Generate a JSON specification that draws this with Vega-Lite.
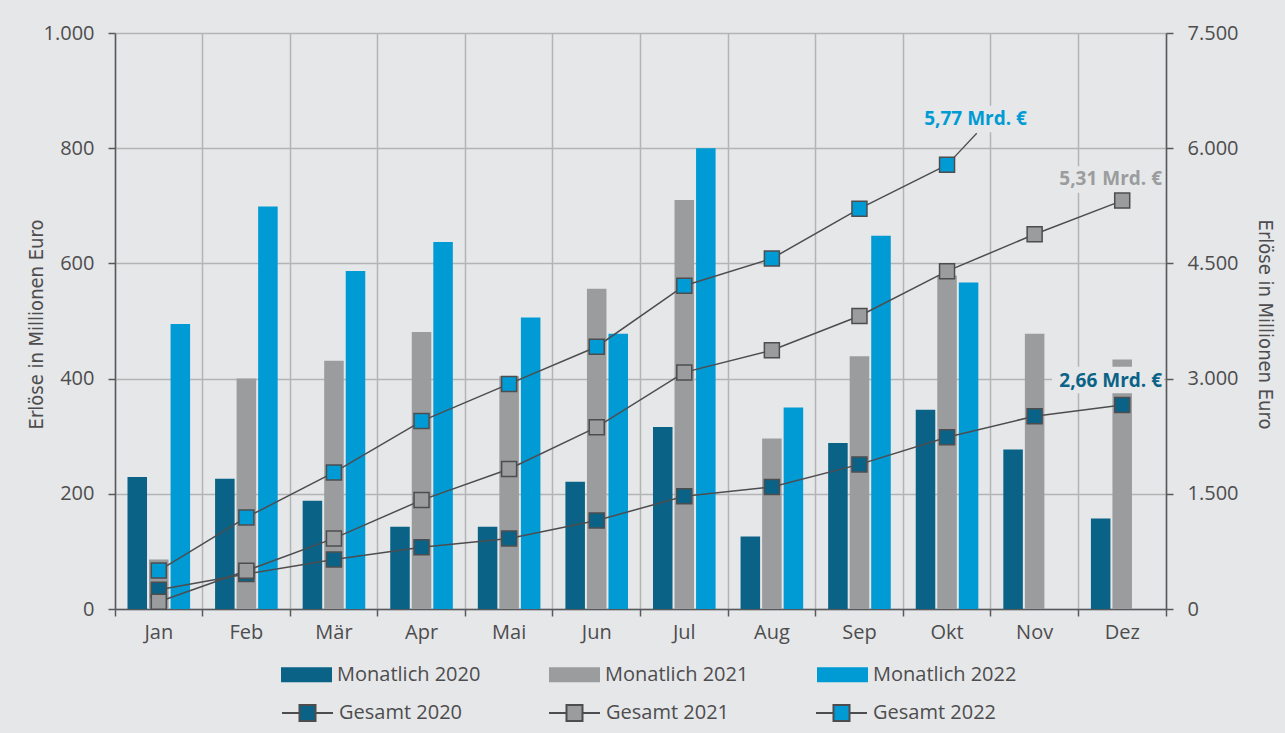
{
  "$schema": "https://vega.github.io/schema/vega-lite/v6.json",
  "width": 1051,
  "height": 576,
  "autosize": "none",
  "padding": {"left": 115, "top": 33, "right": 119, "bottom": 124},
  "background": "#e6e7e8",
  "config": {
    "view": {"stroke": null},
    "axis": {
      "domainColor": "#58595b", "domainWidth": 1.5,
      "tickColor": "#58595b", "tickWidth": 1.5, "tickSize": 7,
      "gridColor": "#b3b4b6", "gridWidth": 1.5,
      "labelFont": "Open Sans", "labelFontSize": 20, "labelColor": "#4d4d4f",
      "titleFont": "DejaVu Sans Condensed, Roboto, sans-serif", "titleFontSize": 20, "titleFontWeight": "normal", "titleColor": "#4d4d4f"
    }
  },
  "datasets": {
    "monate": [
      {"Monat": "Jan", "Jahr": "2020", "Monatlich": 229, "Gesamt": 250},
      {"Monat": "Feb", "Jahr": "2020", "Monatlich": 226, "Gesamt": 455},
      {"Monat": "Mär", "Jahr": "2020", "Monatlich": 188, "Gesamt": 644},
      {"Monat": "Apr", "Jahr": "2020", "Monatlich": 143, "Gesamt": 804},
      {"Monat": "Mai", "Jahr": "2020", "Monatlich": 143, "Gesamt": 919},
      {"Monat": "Jun", "Jahr": "2020", "Monatlich": 221, "Gesamt": 1153},
      {"Monat": "Jul", "Jahr": "2020", "Monatlich": 316, "Gesamt": 1468},
      {"Monat": "Aug", "Jahr": "2020", "Monatlich": 126, "Gesamt": 1588},
      {"Monat": "Sep", "Jahr": "2020", "Monatlich": 288, "Gesamt": 1883},
      {"Monat": "Okt", "Jahr": "2020", "Monatlich": 346, "Gesamt": 2237},
      {"Monat": "Nov", "Jahr": "2020", "Monatlich": 277, "Gesamt": 2511},
      {"Monat": "Dez", "Jahr": "2020", "Monatlich": 157, "Gesamt": 2656},
      {"Monat": "Jan", "Jahr": "2021", "Monatlich": 86, "Gesamt": 95},
      {"Monat": "Feb", "Jahr": "2021", "Monatlich": 400, "Gesamt": 499},
      {"Monat": "Mär", "Jahr": "2021", "Monatlich": 431, "Gesamt": 919},
      {"Monat": "Apr", "Jahr": "2021", "Monatlich": 481, "Gesamt": 1418},
      {"Monat": "Mai", "Jahr": "2021", "Monatlich": 404, "Gesamt": 1823},
      {"Monat": "Jun", "Jahr": "2021", "Monatlich": 556, "Gesamt": 2367},
      {"Monat": "Jul", "Jahr": "2021", "Monatlich": 710, "Gesamt": 3081},
      {"Monat": "Aug", "Jahr": "2021", "Monatlich": 296, "Gesamt": 3370},
      {"Monat": "Sep", "Jahr": "2021", "Monatlich": 439, "Gesamt": 3815},
      {"Monat": "Okt", "Jahr": "2021", "Monatlich": 579, "Gesamt": 4399},
      {"Monat": "Nov", "Jahr": "2021", "Monatlich": 478, "Gesamt": 4879},
      {"Monat": "Dez", "Jahr": "2021", "Monatlich": 433, "Gesamt": 5318},
      {"Monat": "Jan", "Jahr": "2022", "Monatlich": 495, "Gesamt": 500},
      {"Monat": "Feb", "Jahr": "2022", "Monatlich": 699, "Gesamt": 1193},
      {"Monat": "Mär", "Jahr": "2022", "Monatlich": 587, "Gesamt": 1778},
      {"Monat": "Apr", "Jahr": "2022", "Monatlich": 637, "Gesamt": 2447},
      {"Monat": "Mai", "Jahr": "2022", "Monatlich": 506, "Gesamt": 2931},
      {"Monat": "Jun", "Jahr": "2022", "Monatlich": 478, "Gesamt": 3415},
      {"Monat": "Jul", "Jahr": "2022", "Monatlich": 800, "Gesamt": 4209},
      {"Monat": "Aug", "Jahr": "2022", "Monatlich": 350, "Gesamt": 4564},
      {"Monat": "Sep", "Jahr": "2022", "Monatlich": 648, "Gesamt": 5213},
      {"Monat": "Okt", "Jahr": "2022", "Monatlich": 567, "Gesamt": 5783}
    ],
    "notiz": [
      {"Monat": "Okt", "Jahr": "2022", "Gesamt": 5783, "Text": "5,77 Mrd. €"},
      {"Monat": "Dez", "Jahr": "2021", "Gesamt": 5318, "Text": "5,31 Mrd. €"},
      {"Monat": "Dez", "Jahr": "2020", "Gesamt": 2656, "Text": "2,66 Mrd. €"}
    ]
  },
  "layer": [
    {
      "data": {"name": "monate"},
      "mark": {"type": "bar"},
      "encoding": {
        "x": {
          "field": "Monat", "type": "nominal",
          "scale": {"domain": ["Jan","Feb","Mär","Apr","Mai","Jun","Jul","Aug","Sep","Okt","Nov","Dez"], "paddingInner": 0, "paddingOuter": 0},
          "axis": {"title": null, "bandPosition": 1, "tickExtra": true, "labelOffset": 0, "grid": true, "labelAngle": 0, "labelPadding": 6}
        },
        "xOffset": {"field": "Jahr", "type": "nominal", "scale": {"domain": ["2020","2021","2022"], "paddingInner": 0.093, "paddingOuter": 0.58}},
        "y": {
          "field": "Monatlich", "type": "quantitative",
          "scale": {"domain": [0, 1000], "nice": false},
          "axis": {
            "orient": "left", "title": "Erlöse in Millionen Euro", "values": [0,200,400,600,800,1000], "grid": true,
            "labelExpr": "replace(format(datum.value, ',d'), ',', '.')", "labelPadding": 14,
            "titleAngle": -90, "titleX": -79, "titleY": 291, "titleAlign": "center", "titleBaseline": "middle"
          }
        },
        "color": {
          "field": "Jahr", "type": "nominal",
          "scale": {"domain": ["2020","2021","2022"], "range": ["#0a6387","#9a9c9e","#009bd4"]},
          "legend": {
            "title": null, "orient": "none", "legendX": 166, "legendY": 616, "direction": "horizontal", "gridAlign": "all",
            "symbolType": "M-1,-0.294H1V0.294H-1Z", "symbolSize": 2601, "symbolStrokeWidth": 0, "symbolOpacity": 1,
            "labelExpr": "'Monatlich ' + datum.label", "labelFont": "Open Sans", "labelFontSize": 20, "labelColor": "#4d4d4f",
            "labelOffset": 5, "columnPadding": 68, "padding": 0, "labelLimit": 300
          }
        }
      }
    },
    {
      "encoding": {
        "x": {"field": "Monat", "type": "nominal", "scale": {"domain": ["Jan","Feb","Mär","Apr","Mai","Jun","Jul","Aug","Sep","Okt","Nov","Dez"]}},
        "y": {
          "field": "Gesamt", "type": "quantitative",
          "scale": {"domain": [0, 7500], "nice": false},
          "axis": {
            "orient": "right", "title": "Erlöse in Millionen Euro", "values": [0,1500,3000,4500,6000,7500], "grid": false,
            "labelExpr": "replace(format(datum.value, ',d'), ',', '.')", "labelPadding": 14,
            "titleAngle": 90, "titleX": 98, "titleY": 291, "titleAlign": "center", "titleBaseline": "middle"
          }
        }
      },
      "layer": [
        {
          "data": {"name": "notiz"},
          "transform": [{"filter": "datum.Jahr == '2022'"}],
          "mark": {"type": "bar", "width": 113, "xOffset": 28.5, "yOffset": -59.2, "y2Offset": -32.6, "fill": "#e6e7e8"},
          "encoding": {"y2": {"field": "Gesamt"}}
        },
        {
          "data": {"name": "notiz"},
          "transform": [{"filter": "datum.Jahr == '2021'"}],
          "mark": {"type": "bar", "width": 112, "xOffset": -14.2, "yOffset": -34.4, "y2Offset": -7.8, "fill": "#e6e7e8"},
          "encoding": {"y2": {"field": "Gesamt"}}
        },
        {
          "data": {"name": "notiz"},
          "transform": [{"filter": "datum.Jahr == '2020'"}],
          "mark": {"type": "bar", "width": 112, "xOffset": -14.2, "yOffset": -38.3, "y2Offset": -11.7, "fill": "#e6e7e8"},
          "encoding": {"y2": {"field": "Gesamt"}}
        },
        {
          "data": {"name": "notiz"},
          "transform": [{"filter": "datum.Jahr == '2022'"}],
          "mark": {"type": "rule", "stroke": "#4d4d4f", "strokeWidth": 1.3, "x2Offset": 29.7, "y2Offset": -31.6},
          "encoding": {"x2": {"field": "Monat"}, "y2": {"field": "Gesamt"}}
        },
        {
          "data": {"name": "monate"},
          "mark": {"type": "line", "stroke": "#4d4d4f", "strokeWidth": 1.5},
          "encoding": {"detail": {"field": "Jahr"}, "order": {"value": null}}
        },
        {
          "data": {"name": "monate"},
          "mark": {"type": "point", "shape": "square", "size": 225, "filled": true, "opacity": 1, "stroke": "#4d4d4f", "strokeWidth": 1.5},
          "encoding": {
            "fill": {
              "field": "Jahr", "type": "nominal",
              "scale": {"range": ["#0a6387","#9a9c9e","#009bd4"]},
              "legend": {
                "title": null, "orient": "none", "legendX": 166, "legendY": 653.2, "direction": "horizontal", "gridAlign": "all",
                "symbolType": "M-1,0H-0.314M0.314,0H1M-0.314,-0.314H0.314V0.314H-0.314Z", "symbolSize": 2601,
                "symbolStrokeColor": "#4d4d4f", "symbolStrokeWidth": 2, "symbolOpacity": 1,
                "labelExpr": "'Gesamt ' + datum.label", "labelFont": "Open Sans", "labelFontSize": 20, "labelColor": "#4d4d4f",
                "labelOffset": 5, "columnPadding": 83, "padding": 0, "labelLimit": 300
              }
            }
          }
        },
        {
          "data": {"name": "notiz"},
          "transform": [{"filter": "datum.Jahr == '2022'"}],
          "mark": {"type": "text", "font": "Open Sans", "fontSize": 19, "fontWeight": "bold", "align": "center", "baseline": "middle", "dx": 28.5, "dy": -45.9},
          "encoding": {"text": {"field": "Text"}, "color": {"field": "Jahr", "type": "nominal"}}
        },
        {
          "data": {"name": "notiz"},
          "transform": [{"filter": "datum.Jahr == '2021'"}],
          "mark": {"type": "text", "font": "Open Sans", "fontSize": 19, "fontWeight": "bold", "align": "right", "baseline": "middle", "dx": 39.8, "dy": -21.1},
          "encoding": {"text": {"field": "Text"}, "color": {"field": "Jahr", "type": "nominal"}}
        },
        {
          "data": {"name": "notiz"},
          "transform": [{"filter": "datum.Jahr == '2020'"}],
          "mark": {"type": "text", "font": "Open Sans", "fontSize": 19, "fontWeight": "bold", "align": "right", "baseline": "middle", "dx": 39.8, "dy": -24},
          "encoding": {"text": {"field": "Text"}, "color": {"field": "Jahr", "type": "nominal"}}
        }
      ]
    }
  ],
  "resolve": {"scale": {"y": "independent"}}
}
